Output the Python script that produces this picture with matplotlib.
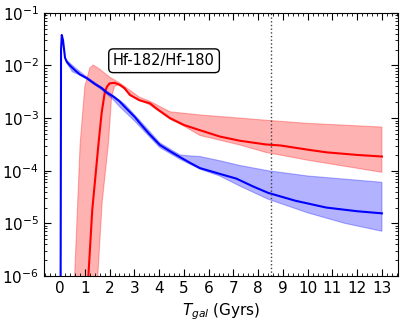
import numpy as np
import matplotlib
matplotlib.use('agg')
import matplotlib.pyplot as plt
from matplotlib.ticker import MultipleLocator, LogLocator, NullFormatter

# times (Gyr) and log10 of ratio
blue_t = [0.02, 0.04, 0.07, 0.12, 0.2, 0.27, 0.4, 0.6, 0.8, 1.08, 1.4, 1.68, 1.9,
          2.15, 2.4, 2.62, 3.02, 3.23, 3.6, 4.03, 4.44, 4.84, 5.25, 5.65, 6.45,
          7.12, 7.8, 8.4, 9.5, 10.75, 12.0, 13.0]
blue_y = [-7.0, -1.7, -1.42, -1.52, -1.85, -1.93, -2.0, -2.09, -2.17, -2.24, -2.35,
          -2.43, -2.52, -2.59, -2.68, -2.79, -2.98, -3.1, -3.3, -3.51, -3.63, -3.74,
          -3.85, -3.95, -4.06, -4.15, -4.3, -4.42, -4.57, -4.7, -4.77, -4.81]

blue_up_t = [0.27, 0.6, 1.08, 1.68, 2.15, 2.62, 3.23, 4.03, 4.84, 5.3, 5.65, 6.45,
             7.26, 8.4, 10.0, 13.0]
blue_up_y = [-1.9, -2.04, -2.22, -2.41, -2.57, -2.74, -3.05, -3.47, -3.70, -3.72,
             -3.73, -3.81, -3.9, -4.0, -4.1, -4.22]
blue_lo_t = [0.27, 0.5, 0.8, 1.08, 1.68, 2.15, 2.4, 3.0, 4.03, 4.84, 5.65, 6.45,
             7.3, 8.4, 10.0, 11.5, 13.0]
blue_lo_y = [-1.95, -2.12, -2.18, -2.26, -2.46, -2.65, -2.78, -3.05, -3.56, -3.78,
             -3.97, -4.1, -4.3, -4.54, -4.8, -5.0, -5.15]

red_t = [1.02, 1.3, 1.55, 1.68, 1.81, 1.9, 2.0, 2.2, 2.42, 2.6, 2.82, 3.2, 3.63,
         3.9, 4.44, 5.0, 5.65, 6.45, 7.26, 8.3, 8.9, 10.0, 10.75, 12.0, 13.0]
red_y = [-7.0, -4.75, -3.5, -2.9, -2.5, -2.4, -2.34, -2.33, -2.37, -2.43, -2.56,
         -2.66, -2.72, -2.82, -3.0, -3.13, -3.23, -3.35, -3.43, -3.5, -3.52, -3.6,
         -3.65, -3.7, -3.73]

red_up_t = [0.5, 0.81, 1.0, 1.2, 1.34, 1.6, 2.0, 2.4, 2.7, 3.2, 3.63, 4.44, 5.65,
            7.26, 8.3, 10.0, 13.0]
red_up_y = [-7.0, -3.5, -2.4, -2.05, -1.99, -2.07, -2.22, -2.33, -2.43, -2.6, -2.68,
            -2.88, -2.94, -3.0, -3.04, -3.1, -3.17]
red_lo_t = [1.4, 1.7, 1.95, 2.02, 2.08, 2.2, 2.35, 2.6, 3.0, 3.63, 4.44, 5.0, 5.65,
            7.26, 8.3, 10.0, 13.0]
red_lo_y = [-7.0, -4.6, -3.5, -3.04, -2.59, -2.4, -2.36, -2.45, -2.6, -2.75, -3.02,
            -3.15, -3.33, -3.51, -3.65, -3.8, -4.03]

T_SUN = 8.5
LABEL = 'Hf-182/Hf-180'


def band(ax, t_up, y_up, t_lo, y_lo, color):
    xs = np.concatenate([t_up, t_lo[::-1]])
    ys = 10.0 ** np.concatenate([y_up, y_lo[::-1]])
    ax.fill(xs, ys, color=color, alpha=0.3, lw=0.8)


def main():
    plt.rcParams['font.size'] = 11
    fig = plt.figure(figsize=(4.07, 3.22), dpi=100)
    ax = fig.add_axes([0.108, 0.143, 0.870, 0.817])

    band(ax, red_up_t, red_up_y, red_lo_t, red_lo_y, 'r')
    band(ax, blue_up_t, blue_up_y, blue_lo_t, blue_lo_y, 'b')
    ax.plot(red_t, 10.0 ** np.array(red_y), color='r', lw=1.5)
    ax.plot(blue_t, 10.0 ** np.array(blue_y), color='b', lw=1.5)

    ax.axvline(T_SUN, color='0.25', ls=':', lw=1)

    ax.set_yscale('log')
    ax.set_ylim(1e-6, 1e-1)
    ax.set_xlim(-0.65, 13.65)
    ax.xaxis.set_major_locator(MultipleLocator(1))
    ax.xaxis.set_minor_locator(MultipleLocator(0.2))
    ax.yaxis.set_major_locator(LogLocator(base=10, numticks=10))
    ax.yaxis.set_minor_locator(LogLocator(base=10, subs=np.arange(2, 10), numticks=20))
    ax.yaxis.set_minor_formatter(NullFormatter())
    ax.tick_params(which='both', direction='in', top=True, right=True)
    ax.tick_params(which='major', length=5)
    ax.tick_params(which='minor', length=2.5)

    ax.set_xlabel('$T_{gal}$ (Gyrs)')
    ax.text(4.2, 10 ** -1.91, LABEL, ha='center', va='center', fontsize=10.5,
            bbox=dict(boxstyle='round', fc='w', ec='k'))

    fig.savefig('out.png', dpi=100)


if __name__ == '__main__':
    main()
